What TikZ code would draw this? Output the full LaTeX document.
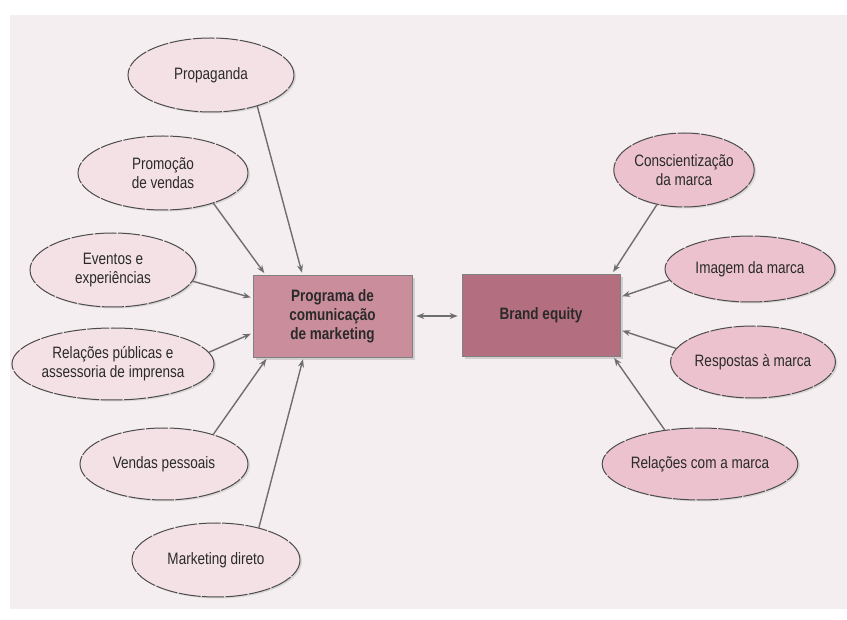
\documentclass[tikz,border=0pt]{standalone}
\usepackage{fontspec}
\newfontfamily\lblfont{Liberation Sans}[FakeStretch=0.82]
\usetikzlibrary{arrows.meta,shadows,shapes.geometric}
\definecolor{pagebg}{HTML}{F5EEF1}
\definecolor{ellL}{HTML}{F4E1E6}
\definecolor{ellR}{HTML}{EBC2CE}
\definecolor{progfill}{HTML}{CA8D9C}
\definecolor{befill}{HTML}{B36F80}
\definecolor{arrgray}{HTML}{6E6E6E}
\definecolor{txtgray}{HTML}{2A2A2A}
\begin{document}
\begin{tikzpicture}[x=1pt,y=-1pt,
  every node/.style={font=\lblfont\fontsize{16.5}{19}\selectfont, text=txtgray, align=center, inner sep=0pt},
  ell/.style={ellipse, draw=black!70, line width=1pt, dash pattern=on 22pt off 1.5pt,
     drop shadow={shadow xshift=2pt, shadow yshift=-1.5pt, fill=black!25, opacity=0.5}},
  leftell/.style={ell, fill=ellL},
  rightell/.style={ell, fill=ellR},
  boxnode/.style={rectangle, draw=black!50, line width=0.6pt, font=\lblfont\bfseries\fontsize{16.5}{19}\selectfont,
     drop shadow={shadow xshift=3pt, shadow yshift=-3pt, fill=black!30, opacity=0.5}},
  arr/.style={draw=arrgray, line width=1.4pt, -{Stealth[length=8pt,width=6pt]}, shorten >=2pt},
  darr/.style={draw=arrgray, line width=1.4pt, {Stealth[length=8pt,width=6pt]}-{Stealth[length=8pt,width=6pt]}, shorten >=4pt, shorten <=4pt}
]
\useasboundingbox (0,0) rectangle (847,620);
\fill[white] (0,0) rectangle (847,620);
\fill[pagebg] (10,15) rectangle (847,609);

% boxes
\node[boxnode, fill=progfill, minimum width=159pt, minimum height=82pt] (prog) at (332.5,316) {Programa de\\comunicação\\de marketing};
\node[boxnode, fill=befill, minimum width=158pt, minimum height=82pt] (be) at (541,315) {Brand equity};

% left ellipses
\node[leftell, minimum width=166pt, minimum height=74pt] (prop) at (211,75) {Propaganda};
\node[leftell, minimum width=170pt, minimum height=74pt] (promo) at (163,173) {Promoção\\de vendas};
\node[leftell, minimum width=166pt, minimum height=74pt] (event) at (113,270) {Eventos e\\experiências};
\node[leftell, minimum width=166pt, minimum height=72pt] (relpub) at (113,364) {Relações públicas e\\assessoria de imprensa};
\node[leftell, minimum width=168pt, minimum height=72pt] (vend) at (164,464) {Vendas pessoais};
\node[leftell, minimum width=168pt, minimum height=74pt] (mkt) at (216,560) {Marketing direto};

% right ellipses
\node[rightell, minimum width=138pt, minimum height=74pt] (consc) at (684,170) {Conscientização\\da marca};
\node[rightell, minimum width=170pt, minimum height=66pt] (imag) at (750,269) {Imagem da marca};
\node[rightell, minimum width=164pt, minimum height=72pt] (resp) at (753,362) {Respostas à marca};
\node[rightell, minimum width=166pt, minimum height=72pt] (relc) at (700,464) {Relações com a marca};

% arrows into programa
\draw[arr] (prop.-34) -- ([xshift=-30pt]prog.north);
\draw[arr] (promo.-31) -- ([xshift=-67pt]prog.north);
\draw[arr] (event.-8) -- ([yshift=18pt]prog.west);
\draw[arr] (relpub.7) -- ([yshift=-17pt]prog.west);
\draw[arr] (vend.31) -- ([xshift=-65pt]prog.south);
\draw[arr] (mkt.37) -- ([xshift=-29pt]prog.south);

% double arrow
\draw[darr] (prog.east) -- (prog.east -| be.west);

% arrows into brand equity
\draw[arr] (consc.-128) -- ([xshift=71pt]be.north);
\draw[arr] (imag.-172) -- ([yshift=18pt]be.east);
\draw[arr] (resp.170) -- ([yshift=-15pt]be.east);
\draw[arr] (relc.136) -- ([xshift=72pt]be.south);
\end{tikzpicture}
\end{document}
